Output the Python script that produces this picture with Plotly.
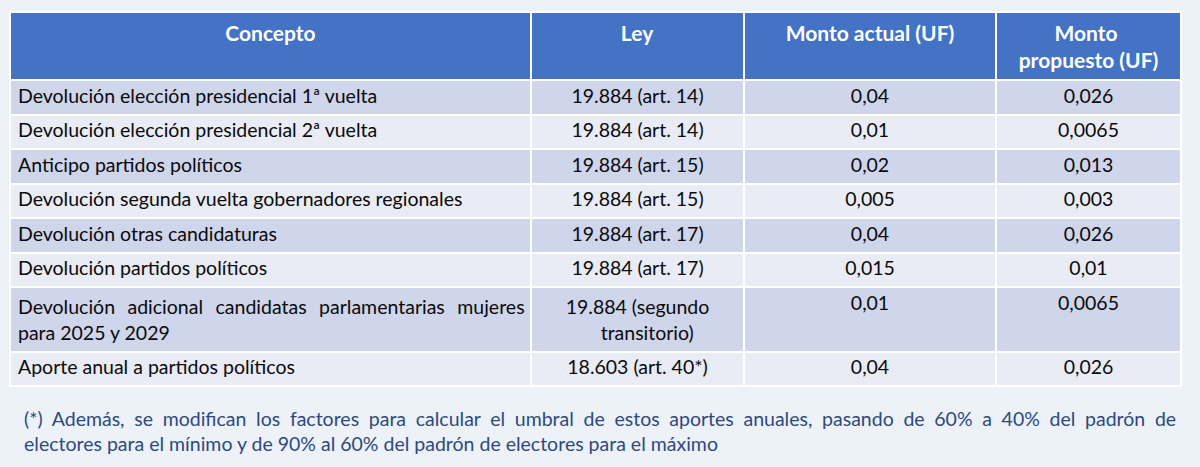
import plotly.graph_objects as go

NB = "\u00a0"
headers = ["Concepto", "Ley", "Monto actual (UF)", NB * 7 + "Monto<br>propuesto (UF)"]
conceptos = [
    "Devolución elección presidencial 1ª vuelta",
    "Devolución elección presidencial 2ª vuelta",
    "Anticipo partidos políticos",
    "Devolución segunda vuelta gobernadores regionales",
    "Devolución otras candidaturas",
    "Devolución partidos políticos",
    "<span style='word-spacing:7.5px'>Devolución adicional candidatas parlamentarias mujeres</span><br>para 2025 y 2029",
    "Aporte anual a partidos políticos",
]
leyes = [
    "19.884 (art. 14)",
    "19.884 (art. 14)",
    "19.884 (art. 15)",
    "19.884 (art. 15)",
    "19.884 (art. 17)",
    "19.884 (art. 17)",
    "19.884 (segundo<br>" + NB * 7 + "transitorio)",
    "18.603 (art. 40*)",
]
monto_actual = ["0,04", "0,01", "0,02", "0,005", "0,04", "0,015", "0,01", "0,04"]
monto_propuesto = ["0,026", "0,0065", "0,013", "0,003", "0,026", "0,01", "0,0065", "0,026"]
nota_l1 = ("(*) Además, se modifican los factores para calcular el umbral de estos aportes anuales, "
           "pasando de 60% a 40% del padrón de")
nota_l2 = "electores para el mínimo y de 90% al 60% del padrón de electores para el máximo"

W, H = 1200, 467
BG = "#EDF1F8"
row_colors = ["#CFD5EA" if i % 2 == 0 else "#E9EBF5" for i in range(len(conceptos))]
FONT = "Lato"

fig = go.Figure(go.Table(
    domain=dict(x=[10 / W, 1181 / W], y=[0.05, 1 - 12 / H]),
    columnwidth=[521, 213, 252, 185],
    header=dict(
        values=[f"<b>{h}</b>" for h in headers],
        fill_color="#4472C4",
        line=dict(color="white", width=2),
        font=dict(family=FONT, size=21, color="white"),
        align="center",
        height=64,
    ),
    cells=dict(
        values=[conceptos, leyes, monto_actual, monto_propuesto],
        fill_color=[row_colors] * 4,
        line=dict(color="white", width=2),
        font=dict(family=FONT, size=19.5, color="#0A0A0A"),
        align=["left", "center", "center", "center"],
        height=34.5,
    ),
))

fig.add_annotation(
    text=f"<span style='word-spacing:4.7px'>{nota_l1}</span><br>{nota_l2}",
    xref="paper", yref="paper", x=22 / W, y=1 - 405 / H,
    xanchor="left", yanchor="top", align="left", showarrow=False,
    font=dict(family=FONT, size=19.5, color="#2E4A7D"),
)

fig.update_layout(
    width=W, height=H, margin=dict(l=0, r=0, t=0, b=0),
    paper_bgcolor=BG, plot_bgcolor=BG,
)
fig.write_html(
    "out.html",
    config={"displayModeBar": False},
    post_script="document.body.style.margin='0';document.body.style.background='%s';" % BG,
)
